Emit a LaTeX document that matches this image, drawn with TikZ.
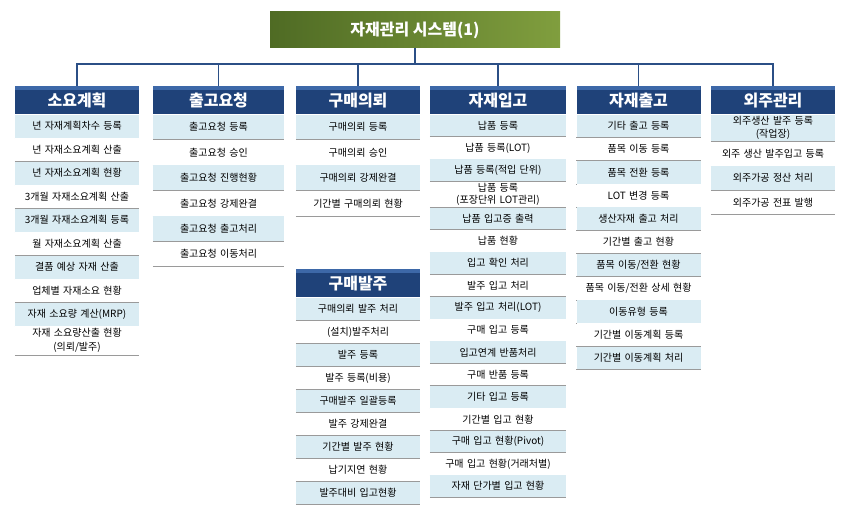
\documentclass[tikz,border=0pt]{standalone}
\usepackage{fontspec}
\setmainfont{Noto Sans CJK KR}
\definecolor{rowb}{HTML}{DAECF3}
\definecolor{navy}{HTML}{1F4279}
\definecolor{navytop}{HTML}{3D68A8}
\definecolor{sepg}{HTML}{9A9A9A}
\definecolor{connc}{HTML}{2B4F86}
\definecolor{tgl}{HTML}{4F6B24}
\definecolor{tgr}{HTML}{809E3E}
\tikzset{
 hdr/.style={draw=none,fill=navy,text=white,font=\fontsize{16}{18}\selectfont\bfseries,minimum height=28pt,inner sep=0pt,anchor=north,
   path picture={\fill[navytop] (path picture bounding box.north west) rectangle ([yshift=-4pt]path picture bounding box.north east);}},
 itm/.style={inner sep=2pt,anchor=north,align=center,font=\fontsize{10}{11.5}\selectfont},
 conn/.style={draw=connc,line width=1.4pt},
}
\newcommand\mkcol[5]{% prefix, header node, width, rowh, list
 \foreach \t [count=\i] in {#5}{%
  \pgfmathtruncatemacro\j{\i-1}%
  \ifodd\i\def\fc{rowb}\else\def\fc{white}\fi
  \node[itm,fill=\fc,minimum width=#3pt,text width=#3pt-4pt,minimum height=#4pt] (#1\i) at (#1\j.south) {\t};
  \draw[sepg,line width=0.8pt] (#1\i.south west) -- (#1\i.south east);
 }}
\begin{document}
\begin{tikzpicture}[x=1pt,y=-1pt]
\useasboundingbox (0,0) rectangle (850,511);
\node[left color=tgl,right color=tgr,draw=none,minimum width=290pt,minimum height=36pt,text=white,font=\fontsize{16}{18}\selectfont\bfseries] (title) at (415,30) {자재관리 시스템(1)};
\node[hdr,minimum width=124pt] (a0) at (77,86) {소요계획};
\node[hdr,minimum width=131pt] (b0) at (218.5,86) {출고요청};
\node[hdr,minimum width=124pt] (c0) at (358,86) {구매의뢰};
\node[hdr,minimum width=124pt] (d0) at (358,269) {구매발주};
\node[hdr,minimum width=136pt] (e0) at (498,86) {자재입고};
\node[hdr,minimum width=124pt] (f0) at (638.5,86) {자재출고};
\node[hdr,minimum width=124pt] (g0) at (773,86) {외주관리};
\coordinate (bus) at (0,64);
\draw[conn] (title.south) -- (title.south |- bus);
\draw[conn] (a0.north) |- (title.south |- bus) -| (g0.north);
\foreach \h in {b0,c0,e0,f0}{\draw[conn] (\h.north) -- (\h.north |- bus);}
\mkcol{a}{a0}{124}{23.1}{년 자재계획차수 등록,년 자재소요계획 산출,년 자재소요계획 현황,3개월 자재소요계획 산출,3개월 자재소요계획 등록,월 자재소요계획 산출,결품 예상 자재 산출,업체별 자재소요 현황,자재 소요량 계산(MRP),{자재 소요량산출 현황\\[3pt](의뢰/발주)}}
\mkcol{b}{b0}{131}{25}{출고요청 등록,출고요청 승인,출고요청 진행현황,출고요청 강제완결,출고요청 출고처리,출고요청 이동처리}
\mkcol{c}{c0}{124}{25}{구매의뢰 등록,구매의뢰 승인,구매의뢰 강제완결,기간별 구매의뢰 현황}
\mkcol{d}{d0}{124}{22.6}{구매의뢰 발주 처리,(설치)발주처리,발주 등록,발주 등록(비용),구매발주 일괄등록,발주 강제완결,기간별 발주 현황,납기지연 현황,발주대비 입고현황}
\mkcol{e}{e0}{136}{21.9}{납품 등록,납품 등록(LOT),납품 등록(적입 단위),{납품 등록\\(포장단위 LOT관리)},납품 입고증 출력,납품 현황,입고 확인 처리,발주 입고 처리,발주 입고 처리(LOT),구매 입고 등록,입고연계 반품처리,구매 반품 등록,기타 입고 등록,기간별 입고 현황,구매 입고 현황(Pivot),구매 입고 현황(거래처별),자재 단가별 입고 현황}
\mkcol{f}{f0}{124}{22.8}{기타 출고 등록,품목 이동 등록,품목 전환 등록,LOT 변경 등록,생산자재 출고 처리,기간별 출고 현황,품목 이동/전환 현황,품목 이동/전환 상세 현황,이동유형 등록,기간별 이동계획 등록,기간별 이동계획 처리}
\mkcol{g}{g0}{124}{24}{{외주생산 발주 등록\\[1pt](작업장)},외주 생산 발주입고 등록,외주가공 정산 처리,외주가공 전표 발행}
\end{tikzpicture}
\end{document}
